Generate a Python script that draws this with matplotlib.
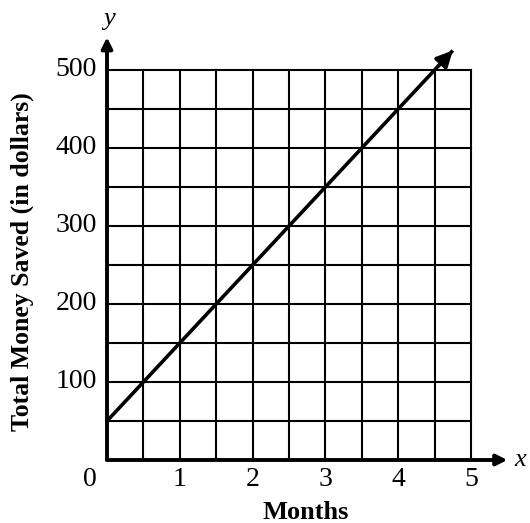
import numpy as np
import matplotlib.pyplot as plt

plt.rcParams["font.family"] = ["Liberation Serif", "DejaVu Serif"]

# line: total saved = 50 + 100 * months, drawn with an arrow past the grid
months = [0, 4.75]
saved = [50, 525]

x_ticks = [1, 2, 3, 4, 5]
y_ticks = [100, 200, 300, 400, 500]

W, H = 530, 523
fig = plt.figure(figsize=(W / 100, H / 100), dpi=100)

# plot area in pixels: x 0..5 -> 107..471, y 0..500 -> 460..70
left, right, top, bottom = 107, 471, 70, 460
ax = fig.add_axes([left / W, 1 - bottom / H, (right - left) / W, (bottom - top) / H])
ax.set_xlim(0, 5)
ax.set_ylim(0, 500)
for s in ax.spines.values():
    s.set_visible(False)
ax.set_xticks([])
ax.set_yticks([])

# grid
for gx in np.arange(0.5, 5.01, 0.5):
    ax.plot([gx, gx], [0, 500], color="black", lw=1.5, clip_on=False)
for gy in np.arange(50, 501, 50):
    ax.plot([0, 5], [gy, gy], color="black", lw=1.5, clip_on=False)

# axes with arrows
ax.annotate("", xy=(5.5, 0), xytext=(0, 0),
            arrowprops=dict(arrowstyle="-|>", lw=2.8, color="black",
                            mutation_scale=16, shrinkA=0, shrinkB=0),
            annotation_clip=False)
ax.annotate("", xy=(0, 542), xytext=(0, 0),
            arrowprops=dict(arrowstyle="-|>", lw=2.8, color="black",
                            mutation_scale=16, shrinkA=0, shrinkB=0),
            annotation_clip=False)

# the data line
ax.plot(months, saved, color="black", lw=2.6, clip_on=False,
        solid_capstyle="butt")
ax.annotate("", xy=(months[-1], saved[-1]), xytext=(months[-1] - 0.2, saved[-1] - 20),
            arrowprops=dict(arrowstyle="-|>", lw=2.6, color="black",
                            mutation_scale=24, shrinkA=0, shrinkB=0),
            annotation_clip=False)

# tick labels
fs = 20
ax.text(-0.23, -25, "0", ha="center", va="center", fontsize=fs)
for t in x_ticks:
    ax.text(t, -25, str(t), ha="center", va="center", fontsize=fs)
for t in y_ticks:
    ax.text(-0.14, t, str(t), ha="right", va="center", fontsize=fs)

ax.text(0.03, 565, "y", style="italic", ha="center", va="center", fontsize=19)
ax.text(5.68, 0, "x", style="italic", ha="center", va="center", fontsize=19)

ax.text(2.73, -67, "Months", ha="center", va="center", fontsize=19, fontweight="bold")
ax.text(-1.16, 254, "Total Money Saved (in dollars)", rotation=90,
        ha="center", va="center", fontsize=18.5, fontweight="bold")

fig.savefig("out.png", dpi=100)
